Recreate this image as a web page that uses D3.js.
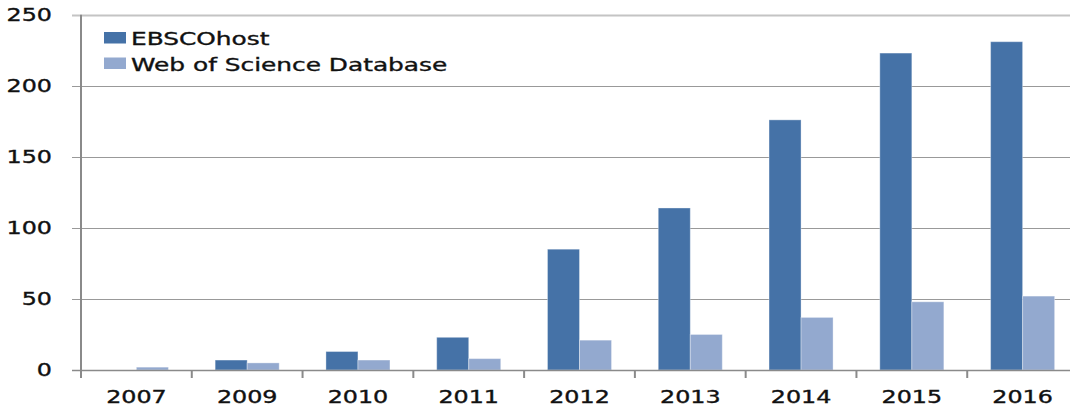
<!DOCTYPE html>
<html><head><meta charset="utf-8">
<script src="https://cdn.jsdelivr.net/npm/d3@7"></script>
<style>body{margin:0;background:#fff;}svg{display:block;}</style>
</head><body>
<svg id="chart" width="1070" height="414"></svg>
<script>
const categories = ["2007","2009","2010","2011","2012","2013","2014","2015","2016"];
const seriesNames = ["EBSCOhost","Web of Science Database"];
const ebsco = [0, 7, 13, 23, 85, 114, 176, 223, 231];
const wos = [2, 5, 7, 8, 21, 25, 37, 48, 52];
const yTicks = [0, 50, 100, 150, 200, 250];
const colors = ["#4572A7", "#93A9CF"];

(function () {
const svg = d3.select("#chart");
const pLeft = 81, pRight = 1078, pTop = 14.7, pBottom = 370;
const FS = 17, FONT = "DejaVu Sans, Verdana, sans-serif";

const y = d3.scaleLinear().domain([0, 250]).range([pBottom, pTop]);
const x0 = d3.scaleBand().domain(categories).range([pLeft, pRight]).padding(0);
const x1 = d3.scaleBand().domain(seriesNames).range([0, x0.bandwidth()]).paddingInner(0).paddingOuter(0.73);

function stext(g, x, yy, txt, anchor, dy, sx) {
  g.append("text")
    .attr("transform", `translate(${x},${yy}) scale(${sx || 1.4},1)`)
    .attr("text-anchor", anchor)
    .attr("dy", dy || 0)
    .attr("font-family", FONT)
    .attr("font-size", FS)
    .attr("fill", "#111")
    .attr("stroke", "#111")
    .attr("stroke-width", 0.35)
    .text(txt);
}

const grid = svg.append("g");
yTicks.forEach(t => {
  if (t === 0) return;
  grid.append("line")
    .attr("x1", 72).attr("x2", 1070)
    .attr("y1", Math.round(y(t)) + 0.5).attr("y2", Math.round(y(t)) + 0.5)
    .attr("stroke", t === 250 ? "#c4c4c4" : "#999")
    .attr("stroke-width", t === 250 ? 2 : 1.2);
});

const yl = svg.append("g");
yTicks.forEach(t => stext(yl, 52, y(t), String(t), "end", "0.36em"));

const data = [ebsco, wos];
const gb = svg.append("g");
categories.forEach((c, i) => {
  seriesNames.forEach((s, j) => {
    const v = data[j][i];
    if (v <= 0) return;
    gb.append("rect")
      .attr("x", x0(c) + x1(s))
      .attr("y", y(v))
      .attr("width", x1.bandwidth())
      .attr("height", y(0) - y(v))
      .attr("fill", colors[j])
      .attr("stroke", "rgba(255,255,255,0.35)")
      .attr("stroke-width", 1);
  });
});

const ax = svg.append("g");
ax.append("line").attr("x1", 72).attr("x2", 1070).attr("y1", pBottom + 0.5).attr("y2", pBottom + 0.5)
  .attr("stroke", "#8a8a8a").attr("stroke-width", 1.5);
categories.forEach(c => {
  ax.append("line").attr("x1", x0(c)).attr("x2", x0(c)).attr("y1", pBottom).attr("y2", 378)
    .attr("stroke", "#8a8a8a").attr("stroke-width", 2);
});
ax.append("line").attr("x1", pLeft).attr("x2", pLeft).attr("y1", pTop).attr("y2", 378)
  .attr("stroke", "#8a8a8a").attr("stroke-width", 2);

const xl = svg.append("g");
categories.forEach(c => stext(xl, x0(c) + x0.bandwidth() / 2, 403, c, "middle"));

const lg = svg.append("g");
seriesNames.forEach((s, j) => {
  const yy = 32 + j * 25.5;
  lg.append("rect").attr("x", 104).attr("y", yy).attr("width", 22).attr("height", 11.5).attr("fill", colors[j]);
  stext(lg, 131, yy + 13, s, "start", 0, 1.46);
});
})();
</script>
</body></html>
